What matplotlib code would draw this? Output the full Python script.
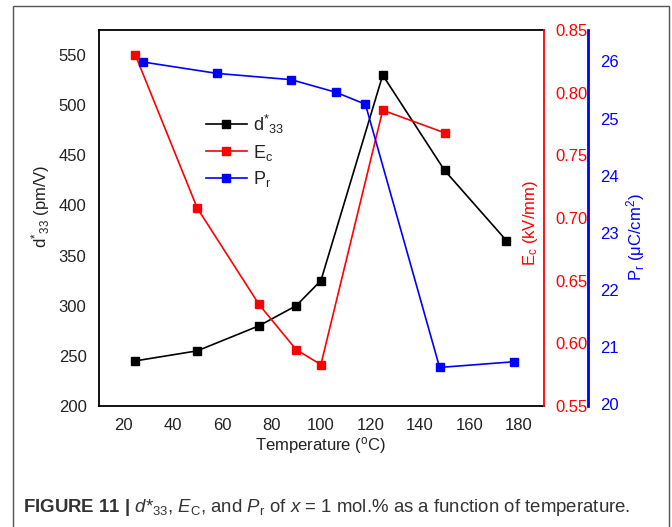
import matplotlib
matplotlib.use("Agg")
import matplotlib.pyplot as plt
from matplotlib import font_manager
from matplotlib.patches import Rectangle

# ---------------- data ----------------
temp_d33 = [25, 50, 75, 90, 100, 125, 150, 175]
d33 = [245, 255, 280, 300, 325, 530, 435, 365]

temp_ec = [25, 50, 75, 90, 100, 125, 150]
ec = [0.830, 0.708, 0.631, 0.595, 0.583, 0.786, 0.768]

temp_pr = [28, 58, 88, 106, 118, 148, 178]
pr = [25.99, 25.79, 25.68, 25.46, 25.25, 20.64, 20.74]

x_ticks = [20, 40, 60, 80, 100, 120, 140, 160, 180]
d33_ticks = [200, 250, 300, 350, 400, 450, 500, 550]
ec_ticks = [0.55, 0.60, 0.65, 0.70, 0.75, 0.80, 0.85]
pr_ticks = [20, 21, 22, 23, 24, 25, 26]

# ---------------- fonts ----------------
names = {f.name for f in font_manager.fontManager.ttflist}
main_font = "Liberation Sans" if "Liberation Sans" in names else "DejaVu Sans"
narrow = "Liberation Sans Narrow" in names
cap_font = "Liberation Sans Narrow" if narrow else main_font
plt.rcParams["font.family"] = [main_font, "DejaVu Sans"]
plt.rcParams["mathtext.fontset"] = "custom"
plt.rcParams["mathtext.rm"] = cap_font
plt.rcParams["mathtext.it"] = cap_font + ":italic"
plt.rcParams["mathtext.bf"] = cap_font + ":bold"

W, H = 672, 527
fig = plt.figure(figsize=(W / 100, H / 100), dpi=100)
fig.patch.set_facecolor("white")

# outer frame
fig.add_artist(Rectangle((13 / W, -0.05), (669 - 13) / W, 1.05 - 6 / H,
                         transform=fig.transFigure, fill=False,
                         edgecolor="#555555", lw=1.0))

L, R, T, B = 99, 544, 30, 406
ax = fig.add_axes([L / W, 1 - B / H, (R - L) / W, (B - T) / H])
ax2 = ax.twinx()
ax3 = ax.twinx()

RED = "#ff0000"
BLUE = "#0000ff"
TXT = "#222222"
fs = 12

ms = 5.5
lw = 1.2
l1, = ax.plot(temp_d33, d33, color="black", marker="s", ms=ms, lw=lw,
              label=r"d$\mathregular{^{*}}$$\mathregular{_{33}}$")
l2, = ax2.plot(temp_ec, ec, color=RED, marker="s", ms=ms, lw=lw,
               label=r"E$\mathregular{_c}$")
l3, = ax3.plot(temp_pr, pr, color=BLUE, marker="s", ms=ms, lw=lw,
               label=r"P$\mathregular{_r}$")

ax.set_xlim(10.3, 190.2)
ax.set_ylim(200, 575)
ax2.set_ylim(0.55, 0.85)
ax3.set_ylim(19.965, 26.55)

ax.set_xticks(x_ticks)
ax.set_yticks(d33_ticks)
ax2.set_yticks(ec_ticks)
ax2.set_yticklabels([f"{v:.2f}" for v in ec_ticks])
ax3.set_yticks(pr_ticks)

ax.tick_params(axis="both", length=0, labelsize=fs, labelcolor=TXT, pad=9)
ax2.tick_params(axis="y", length=0, labelsize=fs, labelcolor=RED, pad=8)
ax3.tick_params(axis="y", length=0, labelsize=fs, labelcolor=BLUE, pad=9)

# spines
for s in ["left", "top", "bottom"]:
    ax.spines[s].set_linewidth(1.3)
    ax.spines[s].set_color("black")
ax.spines["right"].set_visible(False)
for s in ["left", "top", "bottom"]:
    ax2.spines[s].set_visible(False)
    ax3.spines[s].set_visible(False)
ax2.spines["right"].set_color(RED)
ax2.spines["right"].set_linewidth(1.3)
ax3.spines["right"].set_position(("axes", (588 - L) / (R - L)))
ax3.spines["right"].set_color(BLUE)
ax3.spines["right"].set_linewidth(2.0)

# labels
ax.set_xlabel(r"Temperature ($\mathregular{^o}$C)", fontsize=fs, color=TXT)
ax.xaxis.set_label_coords(0.497, -0.078)
ax.set_ylabel(r"d$\mathregular{^{*}}$$\mathregular{_{33}}$ (pm/V)", fontsize=fs, color=TXT)
ax.yaxis.set_label_coords(-0.105, 0.53)
ax2.set_ylabel(r"E$\mathregular{_c}$ (kV/mm)", fontsize=fs, color=RED)
ax2.yaxis.set_label_coords(0.948, 0.487)
ax3.set_ylabel(r"P$\mathregular{_r}$ ($\mathregular{\mu}$C/cm$\mathregular{^2}$)", fontsize=fs, color=BLUE)
ax3.yaxis.set_label_coords(1.18, 0.45)

leg = ax.legend(handles=[l1, l2, l3], loc="upper left",
                bbox_to_anchor=((193 - L) / (R - L), (406 - 100) / (B - T)),
                frameon=False, fontsize=13, handlelength=2.3,
                handletextpad=0.3, labelspacing=0.38, borderpad=0.2,
                markerscale=1.0)
for t in leg.get_texts():
    t.set_color(TXT)

# caption
cap = (r"$\mathbf{FIGURE\ 11\ |}$ $\mathit{d}$*$_{33}$, $\mathit{E}_{\mathrm{C}}$, and "
       r"$\mathit{P}_{\mathrm{r}}$ of $\mathit{x}$ = 1 mol.% as a function of temperature.")
fig.text(23 / W, 1 - 512 / H, cap, fontsize=14 if narrow else 13.4, color="#333333",
         family=[cap_font, "DejaVu Sans"], ha="left", va="baseline")

fig.savefig("out.png", dpi=100, facecolor="white")
